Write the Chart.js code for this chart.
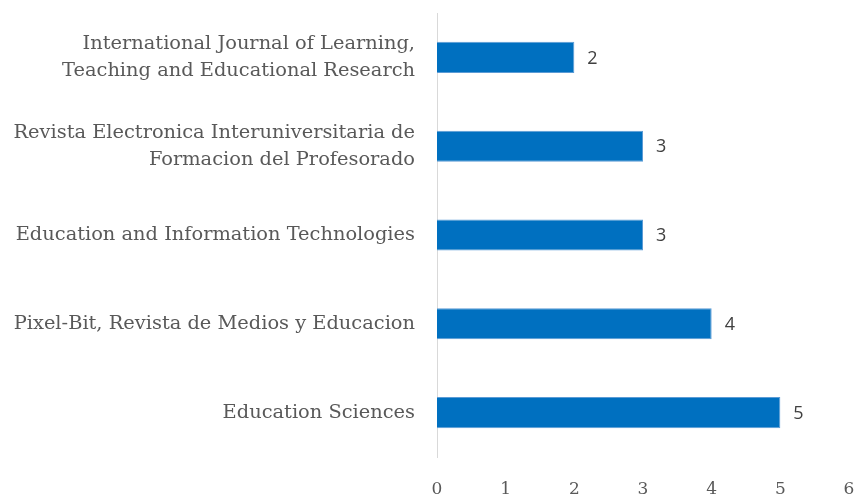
<!DOCTYPE html>
<html><head><meta charset="utf-8">
<script src="https://cdn.jsdelivr.net/npm/chart.js@4"></script>
<style>html,body{margin:0;padding:0;background:#fff}#wrap{width:856px;height:497px}</style>
</head><body><div id="wrap"><canvas id="c" width="856" height="497"></canvas></div>
<script>
const categories = [
  ["International Journal of Learning,", "Teaching and Educational Research"],
  ["Revista Electronica Interuniversitaria de", "Formacion del Profesorado"],
  "Education and Information Technologies",
  "Pixel-Bit, Revista de Medios y Educacion",
  "Education Sciences"
];
const values = [2, 3, 3, 4, 5];
const xTicks = [0, 1, 2, 3, 4, 5, 6];

const serif = "'DejaVu Serif', serif";
const valueLabels = {
  id: 'valueLabels',
  afterDatasetsDraw(chart) {
    const ctx = chart.ctx;
    const meta = chart.getDatasetMeta(0);
    ctx.save();
    ctx.font = "18px 'Open Sans', sans-serif";
    ctx.fillStyle = '#404040';
    ctx.textAlign = 'left';
    ctx.textBaseline = 'middle';
    meta.data.forEach((bar, i) => {
      ctx.fillText(String(values[i]), bar.x + 13, bar.y + 1);
    });
    ctx.restore();
  }
};
function zeroPad(scale) {
  scale.paddingTop = 0; scale.paddingBottom = 0;
  scale.paddingLeft = 0; scale.paddingRight = 0;
}

new Chart(document.getElementById('c'), {
  type: 'bar',
  data: {
    labels: categories,
    datasets: [{
      data: values,
      backgroundColor: '#0070c0',
      borderColor: '#5b9bd5',
      borderWidth: 1,
      categoryPercentage: 1,
      barPercentage: 0.35
    }]
  },
  options: {
    indexAxis: 'y',
    responsive: false,
    animation: false,
    layout: { padding: { top: 13, right: 7, left: 0, bottom: 0 } },
    plugins: { legend: { display: false }, tooltip: { enabled: false } },
    scales: {
      x: {
        min: 0, max: 6,
        afterBuildTicks(scale) { scale.ticks = xTicks.map(v => ({ value: v })); },
        grid: { display: false, drawTicks: false },
        border: { display: false },
        ticks: { color: '#595959', font: { family: serif, size: 17 }, padding: 22, maxRotation: 0 },
        afterFit(scale) { scale.height = 40; zeroPad(scale); }
      },
      y: {
        grid: { display: false, drawTicks: false },
        border: { display: true, color: '#d9d9d9', width: 1 },
        ticks: { color: '#595959', font: { family: serif, size: 19.4, lineHeight: 1.4 }, padding: 22, crossAlign: 'near' },
        afterFit(scale) { scale.width = 437; zeroPad(scale); }
      }
    }
  },
  plugins: [valueLabels]
});
</script>
</body></html>
